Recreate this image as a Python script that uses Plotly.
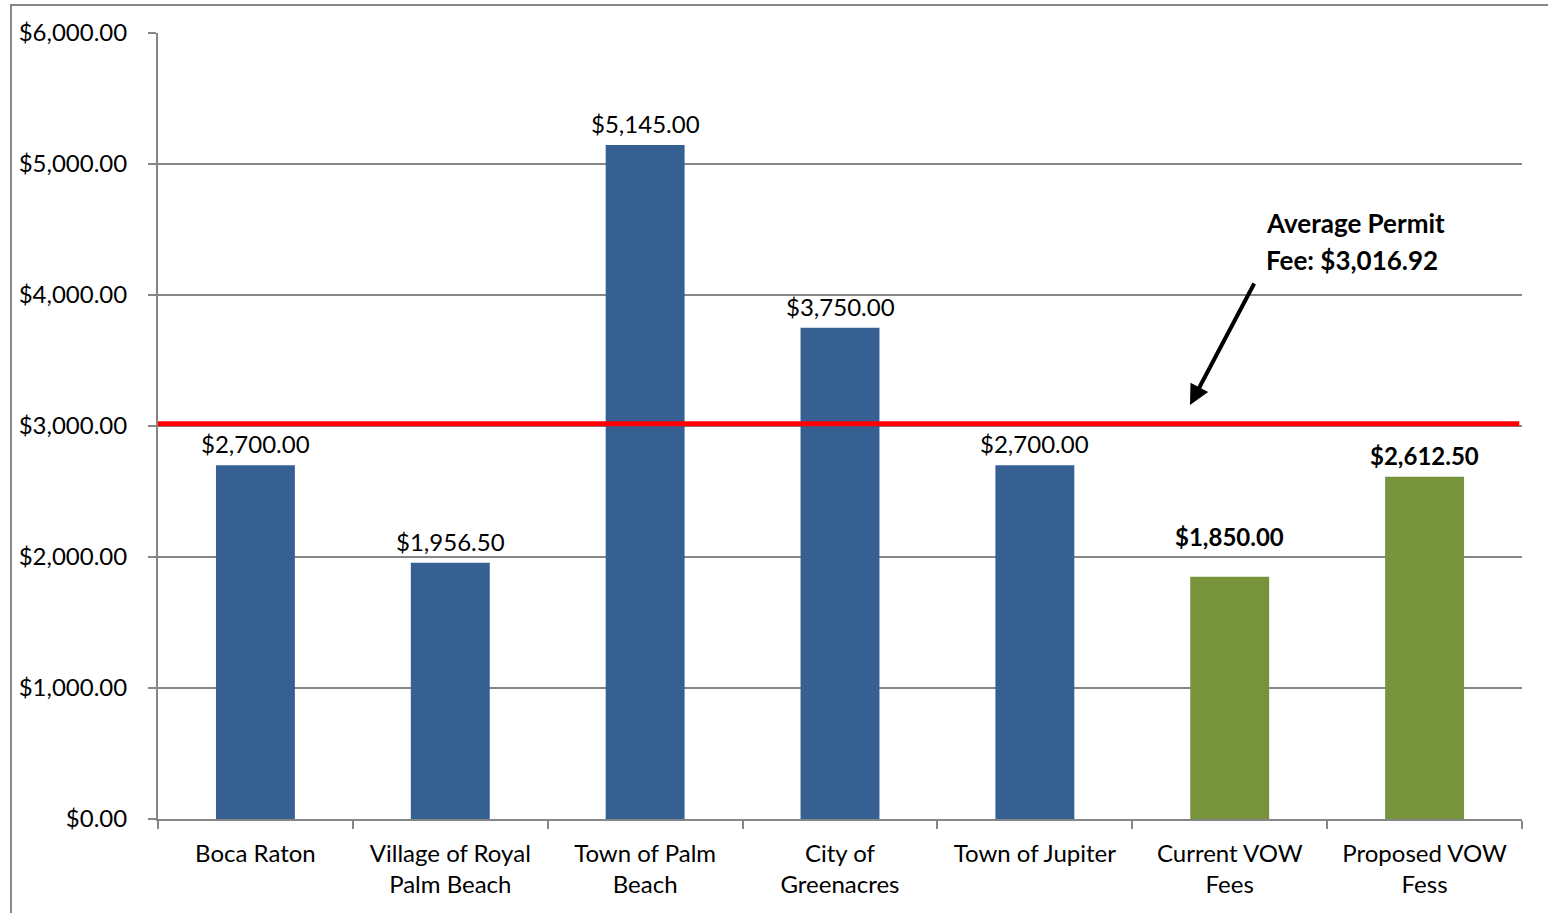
import plotly.graph_objects as go

categories = ["Boca Raton", "Village of Royal<br>Palm Beach", "Town of Palm<br>Beach",
              "City of<br>Greenacres", "Town of Jupiter", "Current VOW<br>Fees", "Proposed VOW<br>Fess"]
values = [2700.00, 1956.50, 5145.00, 3750.00, 2700.00, 1850.00, 2612.50]
is_vow = [False, False, False, False, False, True, True]
average_fee = 3016.92
avg_label = ["Average Permit", "Fee: $3,016.92"]
y_ticks = [0, 1000, 2000, 3000, 4000, 5000, 6000]

BLUE = "#376092"
GREEN = "#77933C"
GREY = "#868686"
FONT = "Lato"
# manual label nudge (pixels) as in the original chart
LABEL_NUDGE = {5: 19}

colors = [GREEN if v else BLUE for v in is_vow]
texts = [("<b>${:,.2f}</b>" if v else "${:,.2f}").format(val) for val, v in zip(values, is_vow)]

fig = go.Figure()
fig.add_trace(go.Bar(
    x=categories, y=values, marker=dict(color=colors, line=dict(width=0)),
    hoverinfo="skip",
))

# data labels
for i, (cat, val, txt) in enumerate(zip(categories, values, texts)):
    fig.add_annotation(x=cat, y=val, xref="x", yref="y", text=txt, showarrow=False,
                       yanchor="bottom", yshift=5 + LABEL_NUDGE.get(i, 0),
                       font=dict(family=FONT, size=24, color="black"))

fig.update_layout(
    width=1548, height=913,
    margin=dict(l=158, r=26, t=33, b=94),
    paper_bgcolor="white", plot_bgcolor="white",
    bargap=0.595, showlegend=False,
    font=dict(family=FONT, size=24, color="black"),
)
fig.update_xaxes(
    showline=True, linecolor=GREY, linewidth=2,
    ticks="outside", tickson="boundaries", ticklen=8, tickcolor=GREY, tickwidth=2,
    tickfont=dict(family=FONT, size=24, color="black"),
    ticklabelstandoff=12,
    showgrid=False,
)
fig.update_yaxes(
    range=[0, 6000], tickvals=y_ticks,
    ticktext=["${:,.2f}".format(t) for t in y_ticks],
    showline=True, linecolor=GREY, linewidth=2,
    ticks="outside", ticklen=8, tickcolor=GREY, tickwidth=2,
    ticklabelstandoff=16,
    showgrid=True, gridcolor=GREY, gridwidth=1.5,
    tickfont=dict(family=FONT, size=24, color="black"),
    zeroline=False,
)

# average line
fig.add_shape(type="line", xref="paper", yref="y", x0=0, x1=0.998,
              y0=average_fee, y1=average_fee, line=dict(color="#FF0000", width=5))

# chart border
fig.add_shape(type="rect", xref="paper", yref="paper",
              x0=-0.1078, x1=1.05, y0=-0.3, y1=1.0356,
              line=dict(color=GREY, width=2), fillcolor="rgba(0,0,0,0)", layer="above")

# arrow
fig.add_annotation(xref="paper", yref="y", x=(1190 - 158) / 1364, y=3160, text="",
                   showarrow=True, arrowhead=2, arrowsize=1.0, arrowwidth=4,
                   arrowcolor="black", ax=65, ay=-123)
fig.add_annotation(xref="paper", yref="paper", x=(1264 - 158) / 1364, y=(819 - 223) / 786,
                   text="<b>" + avg_label[0] + "</b>", showarrow=False,
                   xanchor="left", yanchor="middle", font=dict(family=FONT, size=26, color="black"))
fig.add_annotation(xref="paper", yref="paper", x=(1264 - 158) / 1364, y=(819 - 260) / 786,
                   text="<b>" + avg_label[1] + "</b>", showarrow=False,
                   xanchor="left", yanchor="middle", font=dict(family=FONT, size=26, color="black"))

fig.write_html("out.html", config={"displayModeBar": False},
               post_script="document.body.style.margin='0';document.body.style.overflow='hidden';")
